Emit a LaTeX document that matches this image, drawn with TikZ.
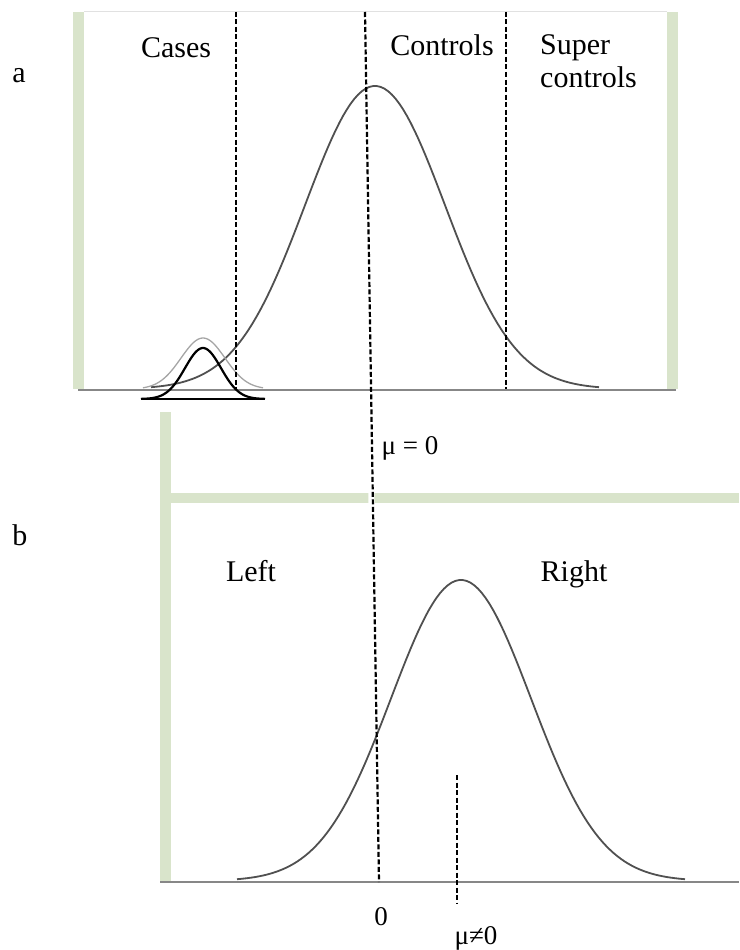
\documentclass[tikz,border=0pt]{standalone}
\usepackage{fontspec}
\setmainfont{Liberation Serif}
\usetikzlibrary{positioning}
\definecolor{bargreen}{RGB}{217,228,203}
\definecolor{axisgrey}{RGB}{135,135,135}
\definecolor{curvegrey}{RGB}{80,80,80}
\definecolor{faintgrey}{RGB}{165,165,165}
\definecolor{rimgrey}{RGB}{225,225,225}
\tikzset{
  greenbar/.style={fill=bargreen,draw=none},
  axisline/.style={draw=axisgrey,line width=1.6pt},
  bellcurve/.style={draw=curvegrey,line width=1.8pt},
  cutline/.style={draw=black,line width=2.2pt,dash pattern=on 5pt off 2.5pt},
  paneltag/.style={font=\fontsize{30}{34}\selectfont,inner sep=0pt},
  grouplabel/.style={font=\fontsize{30}{34}\selectfont,inner sep=0pt,
    anchor=base},
  meanlabel/.style={font=\fontsize{27}{31}\selectfont,inner sep=0pt,
    anchor=base}
}

\begin{document}
\begin{tikzpicture}[x=1pt,y=-1pt]
  \useasboundingbox (0,0) rectangle (739,950);
  % panel a: frame
  \fill[greenbar] (73,12) rectangle (84,389);
  \fill[greenbar] (667,12) rectangle (678,389);
  \draw[rimgrey,line width=1pt] (84,12) -- (667,12);
  \draw[axisline] (78,390) -- (676,390);
  % panel b: frame
  \fill[greenbar] (160,412) rectangle (171,883);
  \fill[greenbar] (171,493) rectangle (739,503);
  \draw[axisline] (160,882) -- (739,882);
  % population curves
  \draw[bellcurve] plot[domain=151:599,samples=120]
    (\x,{389-303*exp(-0.5*((\x-375)/70)^2)});
  \draw[bellcurve] plot[domain=237:685,samples=120]
    (\x,{881-301*exp(-0.5*((\x-461)/70)^2)});
  % case samples
  \draw[faintgrey,line width=1.3pt] plot[domain=143:263,samples=60]
    (\x,{389-51*exp(-0.5*((\x-203)/22)^2)});
  \draw[black,line width=2.2pt] plot[domain=141:265,samples=60]
    (\x,{399-51*exp(-0.5*((\x-203)/18)^2)});
  \draw[black,line width=2pt] (141,399) -- (265,399);
  % thresholds
  \coordinate (cutcase) at (236,12);
  \coordinate (cutsuper) at (506,12);
  \coordinate (zerotop) at (365,12);
  \coordinate (zerobot) at (379,882);
  \coordinate (shifttop) at (457,775);
  \draw[cutline] (cutcase) -- (cutcase |- 0,389);
  \draw[cutline] (cutsuper) -- (cutsuper |- 0,389);
  \draw[white,line width=6pt] (371.3,493) -- (371.5,503);
  \draw[cutline] (zerotop) -- (zerobot);
  \draw[cutline] (shifttop) -- ++(0,129);
  % labels
  \node[paneltag] (taga) at (19,76) {a};
  \node[paneltag] (tagb) at (20,535) {b};
  \node[grouplabel] (cases) at (176,57) {Cases};
  \node[grouplabel] (controls) at (442,56) {Controls};
  \node[font=\fontsize{30}{33}\selectfont,inner sep=0pt,align=left,
    anchor=north west] (super) at (540,34) {Super\\controls};
  \node[meanlabel] (muzero) at (410,454) {μ = 0};
  \node[grouplabel] (left) at (251,581) {Left};
  \node[grouplabel] (right) at (574,581) {Right};
  \node[meanlabel] (zero) at (381,925) {0};
  \node[meanlabel] (mushift) at (476,944) {μ≠0};
\end{tikzpicture}
\end{document}
